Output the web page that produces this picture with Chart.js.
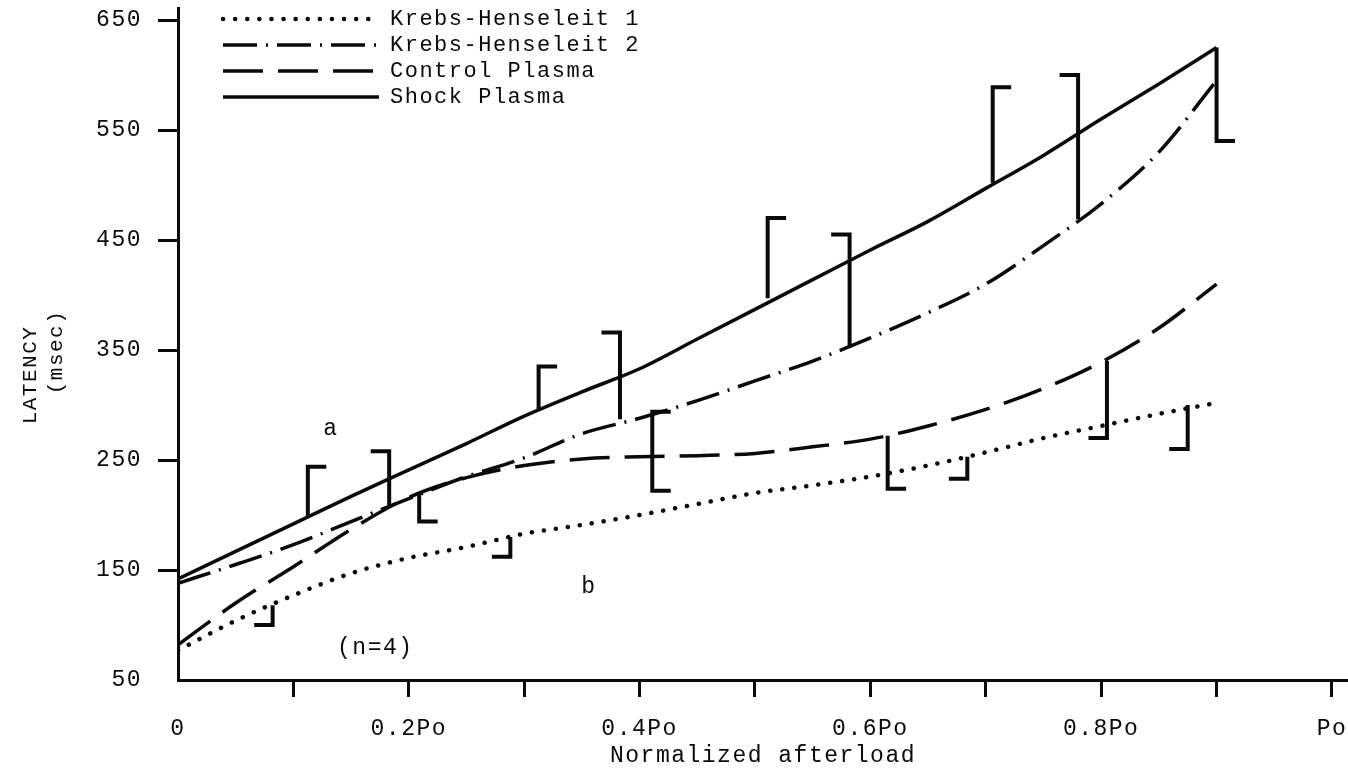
<!DOCTYPE html>
<html>
<head>
<meta charset="utf-8">
<title>Latency vs normalized afterload</title>
<script src="https://cdn.jsdelivr.net/npm/chart.js@4.4.1/dist/chart.umd.min.js"></script>
<style>
  html, body { margin: 0; padding: 0; background: #ffffff; }
  #wrap { width: 1348px; height: 770px; }
</style>
</head>
<body>
<div id="wrap"><canvas id="chart" width="1348" height="770"></canvas></div>
<script>
// ---- data -------------------------------------------------------------
// afterload as a fraction of Po
const afterload = [0, 0.05, 0.1, 0.15, 0.2, 0.25, 0.3, 0.35, 0.4, 0.45, 0.5,
                   0.55, 0.6, 0.65, 0.7, 0.75, 0.8, 0.85, 0.9];

// latency (msec) of each group
const krebs1  = [77, 104, 127, 147, 161, 171, 183, 191, 200, 210, 220,
                 227, 235, 245, 257, 270, 281, 292, 302];
const krebs2  = [138, 155, 173, 194, 215, 235, 252, 274, 288, 304, 322,
                 340, 361, 384, 410, 445, 483, 530, 595];
const control = [82, 120, 153, 187, 216, 234, 245, 251, 253, 254, 256,
                 262, 269, 281, 296, 315, 339, 370, 410];
const shock   = [142, 167, 192, 217, 241, 265, 290, 312, 333, 360, 387,
                 414, 441, 467, 497, 527, 560, 592, 625];

// error brackets: position, upper and lower latency
const errX      = [0.082, 0.1125, 0.183, 0.209, 0.288, 0.3125, 0.383, 0.411,
                   0.511, 0.582, 0.615, 0.684, 0.706, 0.78, 0.805, 0.875, 0.9];
const errTop    = [118, 244, 258, 219, 180, 335, 366, 294,
                   470, 455, 272, 253, 589, 600, 340, 300, 625];
const errBottom = [100, 199, 207, 194, 162, 295, 287, 222,
                   397, 352, 224, 233, 502, 469, 270, 260, 540];
// which way the little end caps point (+1 right, -1 left, 0 none)
const capTop    = [0, 1, -1, 0, 0, 1, -1, 1, 1, -1, 0, 0, 1, -1, 0, 0, 0];
const capBottom = [-1, 0, 0, 1, -1, 0, 0, 1, 0, 0, 1, -1, 0, 0, -1, -1, 1];

// axis ticks
const xTicks = [0, 0.1, 0.2, 0.3, 0.4, 0.5, 0.6, 0.7, 0.8, 0.9, 1.0];
const xTickLabels = ['0', '', '0.2Po', '', '0.4Po', '', '0.6Po', '', '0.8Po', '', 'Po'];
const yTicks = [50, 150, 250, 350, 450, 550, 650];
const yTitle = ['LATENCY', '(msec)'];

// free-standing notes
const noteText = ['a', 'b', '(n=4)'];
const noteX    = [0.1325, 0.356, 0.171];
const noteY    = [278, 135, 79];

// ---- chart ------------------------------------------------------------
const FONT = '"Liberation Mono", "DejaVu Sans Mono", monospace';
const FS = 23;
const INK = '#0a0a0a';
const CAP = 0.016;
const TRACKING = '1.5px';   // typewriter-wide letter spacing

const pts = ys => afterload.map((x, i) => ({ x, y: ys[i] }));

const series = [
  { label: 'Krebs-Henseleit 1', data: pts(krebs1),  borderDash: [0.1, 12], borderWidth: 4.5, borderCapStyle: 'round' },
  { label: 'Krebs-Henseleit 2', data: pts(krebs2),  borderDash: [34, 9, 2, 9], borderWidth: 3.5, borderCapStyle: 'butt' },
  { label: 'Control Plasma',    data: pts(control), borderDash: [40, 15], borderWidth: 3.5, borderCapStyle: 'butt' },
  { label: 'Shock Plasma',      data: pts(shock),   borderDash: [], borderWidth: 3.5, borderCapStyle: 'butt' }
].map(d => Object.assign(d, {
  borderColor: INK, backgroundColor: INK, pointRadius: 0, fill: false,
  cubicInterpolationMode: 'monotone'
}));

const brackets = errX.map((x, i) => {
  const data = [];
  if (capTop[i]) data.push({ x: x + capTop[i] * CAP, y: errTop[i] });
  data.push({ x, y: errTop[i] });
  data.push({ x, y: errBottom[i] });
  if (capBottom[i]) data.push({ x: x + capBottom[i] * CAP, y: errBottom[i] });
  return {
    label: 'err' + i, data, borderColor: INK, borderWidth: 4, pointRadius: 0,
    tension: 0, fill: false, borderJoinStyle: 'miter'
  };
});

// legend sits inside the plot, top left
const LEGEND_LEFT = 223, LEGEND_TOP = 8;

const decorPlugin = {
  id: 'decor',
  beforeUpdate(chart) { chart.ctx.letterSpacing = TRACKING; },
  beforeDraw(chart) { chart.ctx.letterSpacing = TRACKING; },
  afterLayout(chart) {
    const lg = chart.legend;
    if (lg) {
      const p = lg.options.labels.padding;
      lg.left = LEGEND_LEFT - p;
      lg.top = LEGEND_TOP - p;
    }
  },
  afterDatasetsDraw(chart) {
    const { ctx, scales: { x, y } } = chart;
    ctx.save();
    ctx.fillStyle = INK;
    ctx.font = FS + 'px ' + FONT;
    ctx.textAlign = 'center';
    ctx.textBaseline = 'middle';
    noteText.forEach((t, i) => ctx.fillText(t, x.getPixelForValue(noteX[i]), y.getPixelForValue(noteY[i])));
    // vertical axis caption, two rotated lines
    const cy = [375, 352], cx = [30, 56];
    yTitle.forEach((t, i) => {
      ctx.save();
      ctx.translate(cx[i], cy[i]);
      ctx.rotate(-Math.PI / 2);
      ctx.font = (FS - 2) + 'px ' + FONT;
      ctx.fillText(t, 0, 0);
      ctx.restore();
    });
    ctx.restore();
  }
};

new Chart(document.getElementById('chart'), {
  type: 'line',
  data: { datasets: series.concat(brackets) },
  plugins: [decorPlugin],
  options: {
    responsive: false,
    animation: false,
    devicePixelRatio: 1,
    layout: { padding: { top: 8, right: 0, left: 0, bottom: 0 } },
    plugins: {
      tooltip: { enabled: false },
      legend: {
        position: 'chartArea',
        align: 'start',
        labels: {
          usePointStyle: true,
          pointStyle: 'line',
          pointStyleWidth: 156,
          color: INK,
          padding: 4,
          font: { family: FONT, size: FS - 1 },
          generateLabels(chart) {
            return chart.data.datasets.slice(0, 4).map((d, i) => ({
              text: d.label, datasetIndex: i, pointStyle: 'line',
              strokeStyle: INK, fillStyle: INK, fontColor: INK,
              lineWidth: d.borderWidth, lineDash: d.borderDash, lineCap: d.borderCapStyle
            }));
          }
        }
      }
    },
    scales: {
      x: {
        type: 'linear', min: 0, max: 1.0139,
        afterBuildTicks: s => { s.ticks = xTicks.map(v => ({ value: v })); },
        afterFit: s => { s.height = 90; s.paddingLeft = 0; s.paddingRight = 0; },
        ticks: {
          autoSkip: false, maxRotation: 0, color: INK, padding: 18,
          font: { family: FONT, size: FS },
          callback: (v, i) => xTickLabels[i]
        },
        grid: {
          drawOnChartArea: false, drawTicks: true, tickLength: 17, tickWidth: 3,
          tickColor: c => (c.tick && c.tick.value === 0 ? 'rgba(0,0,0,0)' : INK)
        },
        border: { display: true, width: 3, color: INK },
        title: {
          display: true, text: 'Normalized afterload', color: INK,
          font: { family: FONT, size: FS }, padding: { top: 0, bottom: 0 }
        }
      },
      y: {
        type: 'linear', min: 50, max: 661,
        afterBuildTicks: s => { s.ticks = yTicks.map(v => ({ value: v })); },
        afterFit: s => { s.width = 178; s.paddingTop = 0; s.paddingBottom = 0; },
        ticks: {
          color: INK, padding: 16, font: { family: FONT, size: FS },
          callback: v => String(v)
        },
        grid: {
          drawOnChartArea: false, drawTicks: true, tickLength: 20, tickWidth: 3,
          tickColor: c => (c.tick && c.tick.value === 50 ? 'rgba(0,0,0,0)' : INK)
        },
        border: { display: true, width: 3, color: INK }
      }
    }
  }
});
</script>
</body>
</html>
